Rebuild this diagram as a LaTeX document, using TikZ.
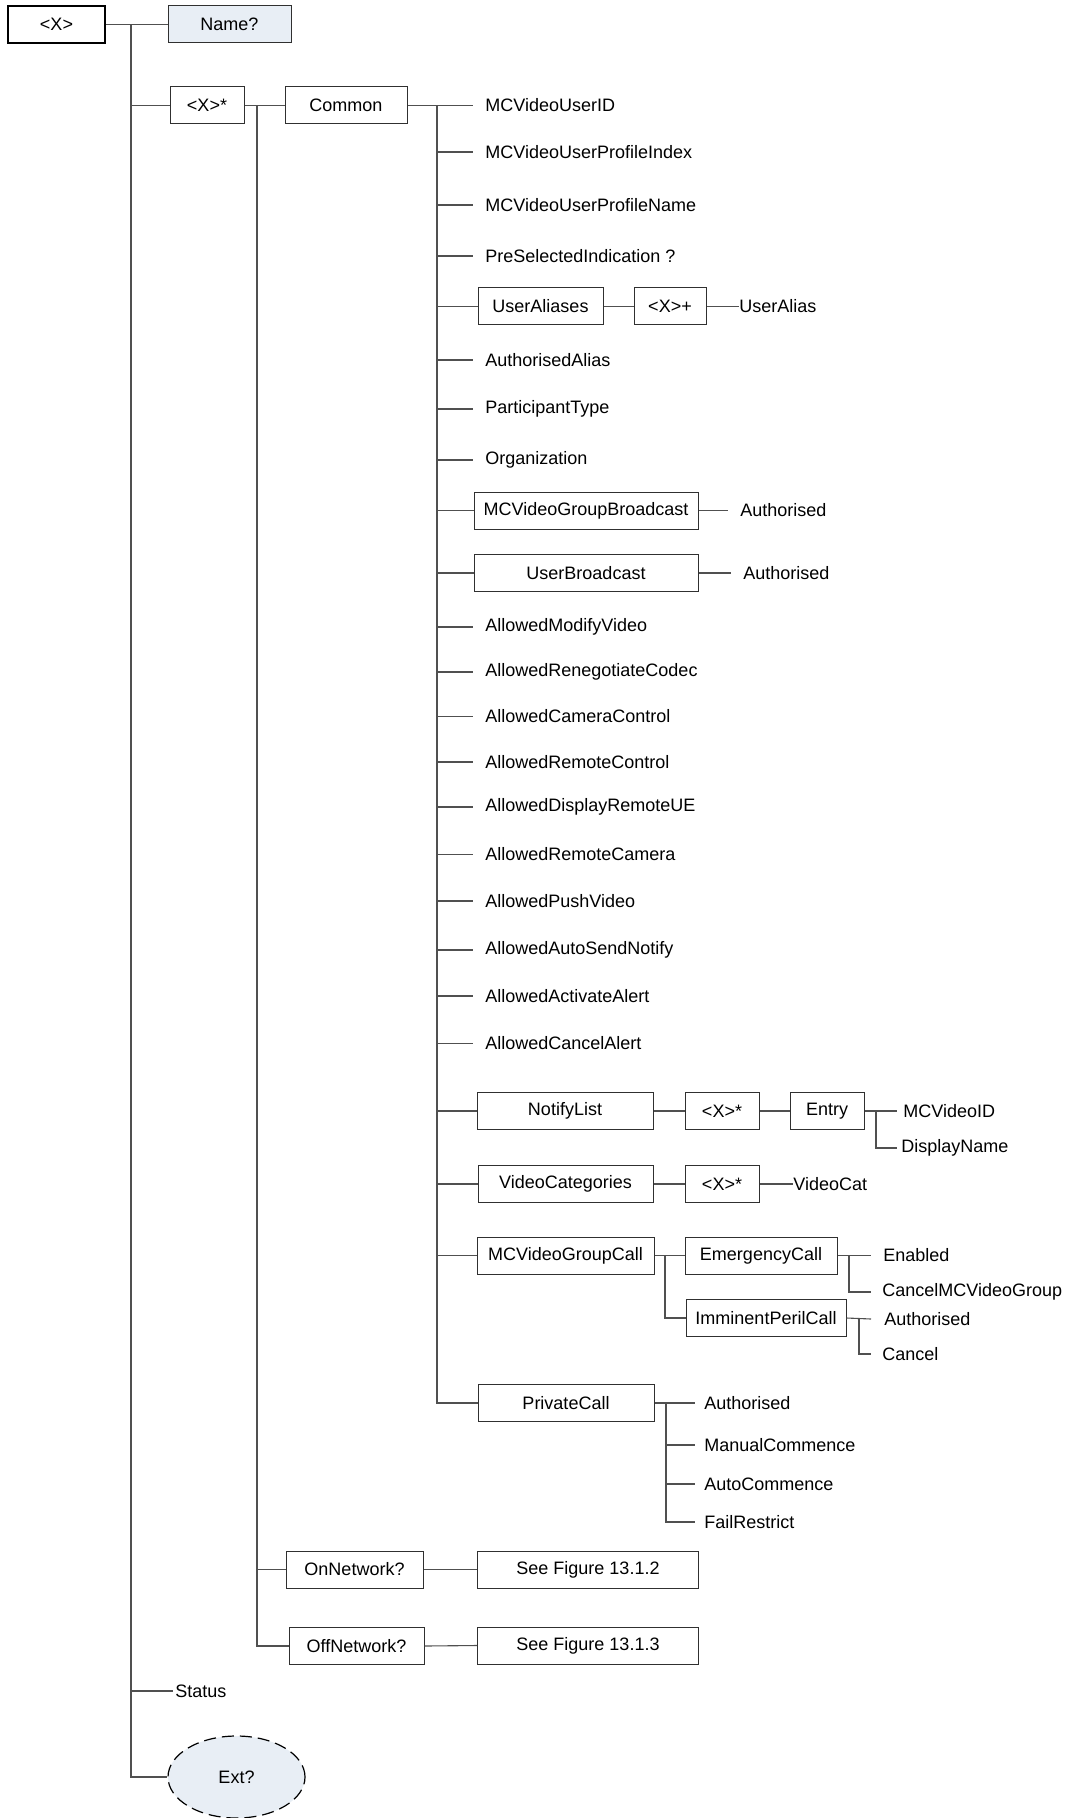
\documentclass[tikz,border=0pt]{standalone}
\usepackage{fontspec}
\setmainfont{Liberation Sans}
\usetikzlibrary{shapes.geometric}
\definecolor{lnc}{HTML}{505050}
\definecolor{bxc}{HTML}{303030}
\definecolor{fillc}{HTML}{E8EEF5}
\begin{document}
\begin{tikzpicture}[x=0.5pt,y=-0.5pt,
  every node/.style={font=\fontsize{9}{11}\selectfont},
  box/.style={draw=bxc, line width=0.5pt, minimum width=#1*0.5pt, minimum height=18.5pt, inner sep=0pt},
  txt/.style={anchor=west, inner sep=0pt},
  ln/.style={draw=lnc, line width=0.55pt}]
\useasboundingbox (0,0) rectangle (1069,1818);
% level 0/1
\node[box=97, line width=1.1pt, draw=black] (root) at (56.5,24.5) {<X>};
\node[box=123, fill=fillc] (name) at (229.5,24.5) {Name?};
\node[box=74] (xs) at (207,105.5) {<X>*};
\node[txt] (status) at (175,1691) {Status};
\node[draw=black, dash pattern=on 6pt off 3pt, line width=0.6pt, fill=fillc, ellipse, minimum width=68.5pt, minimum height=41pt, inner sep=0pt] (ext) at (236.5,1777) {Ext?};
\coordinate (tr) at (131,24.5);
\draw[ln] (root.east) -- (name.west);
\draw[ln] (tr) |- (xs.west);
\draw[ln] (tr) |- ([xshift=-1pt]status.west);
\draw[ln] (tr) |- (ext.west);
% level 2
\node[box=122] (common) at (346,105.5) {Common};
\node[box=137] (onnet) at (354.5,1569.5) {OnNetwork?};
\node[box=135] (offnet) at (356.5,1646) {OffNetwork?};
\node[box=221] (fig2) at (588,1569.5) {See Figure 13.1.2};
\node[box=221] (fig3) at (588,1645.5) {See Figure 13.1.3};
\coordinate (t2) at (257,105.5);
\draw[ln] (xs.east) -- (common.west);
\draw[ln] (t2) |- (onnet.west);
\draw[ln] (t2) |- (offnet.west);
\draw[ln] (onnet.east) -- (fig2.west);
\draw[ln] (offnet.east) -- (fig3.west);
% Common children
\coordinate (t3) at (437,105.5);
\draw[ln] (common.east) -- (t3);
\foreach \nm/\yy/\tx in {c1/105.5/MCVideoUserID, c2/152/MCVideoUserProfileIndex, c3/205/MCVideoUserProfileName, c4/256/{PreSelectedIndication ?}, c5/360/AuthorisedAlias, c6/409/ParticipantType, c7/460/Organization, c8/627/AllowedModifyVideo, c9/672/AllowedRenegotiateCodec, c10/716.5/AllowedCameraControl, c11/762/AllowedRemoteControl, c12/807/AllowedDisplayRemoteUE, c13/854.5/AllowedRemoteCamera, c14/901/AllowedPushVideo, c15/950/AllowedAutoSendNotify, c16/996/AllowedActivateAlert, c17/1043.5/AllowedCancelAlert}{
  \node[txt] (\nm) at (485,\yy) {\tx};
  \draw[ln] (t3) |- ([xshift=-6pt]\nm.west);
}
% UserAliases
\node[box=125] (ualiases) at (540.5,306.5) {UserAliases};
\node[box=72] (xp) at (670,306.5) {<X>+};
\node[txt] (ualias) at (739,306.5) {UserAlias};
\draw[ln] (t3) |- (ualiases.west);
\draw[ln] (ualiases.east) -- (xp.west);
\draw[ln] (xp.east) -- (ualias.west);
% Broadcasts
\node[box=224] (gbc) at (586,510.5) {MCVideoGroupBroadcast};
\node[txt] (gbca) at (740,510.5) {Authorised};
\node[box=224] (ubc) at (586,573) {UserBroadcast};
\node[txt] (ubca) at (743,573) {Authorised};
\draw[ln] (t3) |- (gbc.west);
\draw[ln] (t3) |- (ubc.west);
\draw[ln] (gbc.east) -- ([xshift=-6pt]gbca.west);
\draw[ln] (ubc.east) -- ([xshift=-6pt]ubca.west);
% NotifyList
\node[box=176] (nl) at (565,1111) {NotifyList};
\node[box=74] (nlx) at (722,1111) {<X>*};
\node[box=74] (entry) at (827,1111) {Entry};
\node[txt] (mcid) at (903,1111) {MCVideoID};
\node[txt] (dname) at (901,1148) {DisplayName};
\coordinate (te) at (876,1111);
\draw[ln] (t3) |- (nl.west);
\draw[ln] (nl.east) -- (nlx.west);
\draw[ln] (nlx.east) -- (entry.west);
\draw[ln] (entry.east) -- ([xshift=-3pt]mcid.west);
\draw[ln] (te) |- ([xshift=-2pt]dname.west);
% VideoCategories
\node[box=175] (vc) at (565.5,1184) {VideoCategories};
\node[box=74] (vcx) at (722,1184) {<X>*};
\node[txt] (vcat) at (793,1184) {VideoCat};
\draw[ln] (t3) |- (vc.west);
\draw[ln] (vc.east) -- (vcx.west);
\draw[ln] (vcx.east) -- (vcat.west);
% MCVideoGroupCall
\node[box=177] (gc) at (565.5,1255.5) {MCVideoGroupCall};
\node[box=152] (ec) at (761,1255.5) {EmergencyCall};
\node[box=160] (ipc) at (766,1318) {ImminentPerilCall};
\node[txt] (ena) at (883,1255.5) {Enabled};
\node[txt] (cmg) at (882,1292) {CancelMCVideoGroup};
\node[txt] (ipa) at (884,1319) {Authorised};
\node[txt] (ipcn) at (882,1354) {Cancel};
\coordinate (tg) at (665,1255.5);
\coordinate (tec) at (849,1255.5);
\coordinate (tip) at (859,1318);
\draw[ln] (t3) |- (gc.west);
\draw[ln] (gc.east) -- (ec.west);
\draw[ln] (tg) |- (ipc.west);
\draw[ln] (ec.east) -- ([xshift=-6pt]ena.west);
\draw[ln] (tec) |- ([xshift=-5.5pt]cmg.west);
\draw[ln] (ipc.east) -- ([xshift=-6.5pt]ipa.west);
\draw[ln] (tip) |- ([xshift=-5.5pt]ipcn.west);
% PrivateCall
\node[box=176] (pc) at (566,1403) {PrivateCall};
\coordinate (tp) at (666,1403);
\draw[ln] (t3) |- (pc.west);
\draw[ln] (pc.east) -- (tp);
\foreach \nm/\yy/\tx in {p1/1403/Authorised, p2/1445/ManualCommence, p3/1484/AutoCommence, p4/1522/FailRestrict}{
  \node[txt] (\nm) at (704,\yy) {\tx};
  \draw[ln] (tp) |- ([xshift=-4.5pt]\nm.west);
}
\end{tikzpicture}
\end{document}
